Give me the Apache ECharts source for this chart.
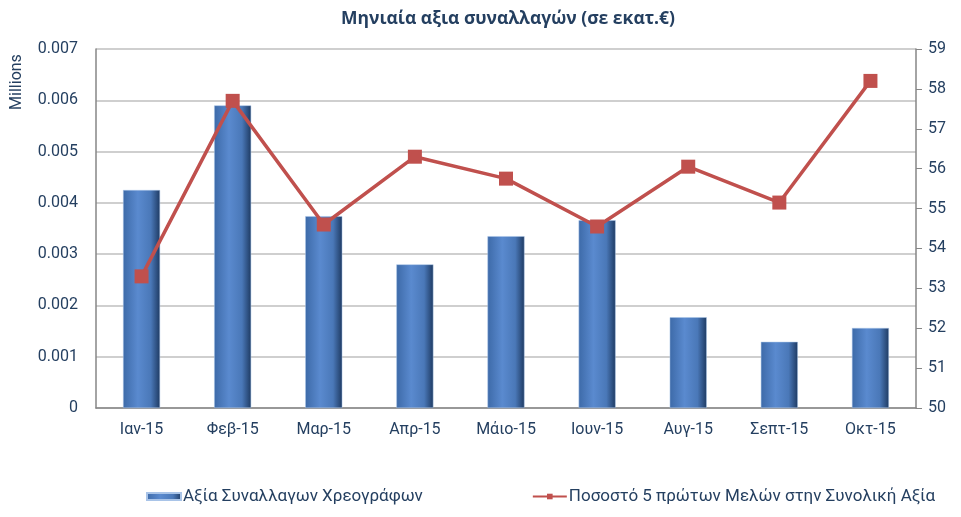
<!DOCTYPE html>
<html>
<head>
<meta charset="utf-8">
<script src="https://cdn.jsdelivr.net/npm/echarts@6/dist/echarts.min.js"></script>
<style>
  html, body { margin: 0; padding: 0; background: #fff; }
  #chart { width: 961px; height: 517px; }
</style>
</head>
<body>
<div id="chart"></div>
<script>
  var months = ['Ιαν-15', 'Φεβ-15', 'Μαρ-15', 'Απρ-15', 'Μάιο-15', 'Ιουν-15', 'Αυγ-15', 'Σεπτ-15', 'Οκτ-15']
  // αξία συναλλαγών (millions)
  var tradeValue = [0.00425, 0.0059, 0.00374, 0.0028, 0.00335, 0.00366, 0.00177, 0.00129, 0.00156]
  // ποσοστό 5 πρώτων μελών (%)
  var top5Share = [53.3, 57.7, 54.6, 56.3, 55.75, 54.55, 56.05, 55.15, 58.2]

  var textColor = '#243F60'
  var font = 'Roboto'

  var chart = echarts.init(document.getElementById('chart'))
  var option = {
    animation: false,
    textStyle: { fontFamily: font },
    title: {
      text: 'Μηνιαία αξια συναλλαγών (σε εκατ.€)',
      left: 336,
      top: 5,
      textStyle: { color: textColor, fontSize: 17.5, fontWeight: 'bold', fontFamily: 'Open Sans' }
    },
    graphic: [
      {
        type: 'text',
        x: 17,
        y: 82,
        rotation: Math.PI / 2,
        style: {
          text: 'Millions',
          fill: textColor,
          font: '16px Roboto',
          align: 'center',
          verticalAlign: 'middle'
        }
      }
    ],
    grid: { left: 96, right: 45, top: 49, bottom: 109 },
    legend: {
      bottom: 7,
      left: 141,
      itemGap: 109,
      itemWidth: 34,
      itemHeight: 7,
      textStyle: { color: textColor, fontSize: 17, fontFamily: font, padding: [0, 0, 0, -3] },
      data: [
        { name: 'Αξία Συναλλαγων Χρεογράφων', icon: 'rect' },
        { name: 'Ποσοστό 5 πρώτων Μελών στην Συνολική Αξία' }
      ]
    },
    xAxis: {
      type: 'category',
      data: months,
      axisLine: { lineStyle: { color: '#868686', width: 1.5 } },
      axisTick: { show: false },
      axisLabel: { color: textColor, fontSize: 16, margin: 14 }
    },
    yAxis: [
      {
        type: 'value',
        min: 0,
        max: 0.007,
        interval: 0.001,
        axisLine: { show: true, lineStyle: { color: '#868686', width: 1.5 } },
        axisTick: { show: false },
        splitLine: { lineStyle: { color: '#BFBFBF', width: 1.5 } },
        axisLabel: {
          color: textColor,
          fontSize: 16,
          margin: 18,
          formatter: function (v) { return v === 0 ? '0' : v.toFixed(3) }
        }
      },
      {
        type: 'value',
        min: 50,
        max: 59,
        interval: 1,
        position: 'right',
        axisLine: { show: true, lineStyle: { color: '#868686', width: 1.5 } },
        axisTick: { show: true, inside: false, length: 6, lineStyle: { color: '#868686' } },
        splitLine: { show: false },
        axisLabel: { color: textColor, fontSize: 16, margin: 12 }
      }
    ],
    series: [
      {
        name: 'Αξία Συναλλαγων Χρεογράφων',
        type: 'bar',
        yAxisIndex: 0,
        barWidth: 37,
        itemStyle: {
          color: new echarts.graphic.LinearGradient(0, 0, 1, 0, [
            { offset: 0, color: '#3D6AA8' },
            { offset: 0.4, color: '#5A8ACF' },
            { offset: 0.75, color: '#4A78B8' },
            { offset: 1, color: '#1E3A62' }
          ]),
          borderColor: '#A9C4E8',
          borderWidth: 0.5
        },
        data: tradeValue
      },
      {
        name: 'Ποσοστό 5 πρώτων Μελών στην Συνολική Αξία',
        type: 'line',
        yAxisIndex: 1,
        symbol: 'rect',
        symbolSize: 14,
        lineStyle: { color: '#C0504D', width: 3.5 },
        itemStyle: { color: '#C0504D' },
        data: top5Share
      }
    ]
  }
  chart.setOption(option)
</script>
</body>
</html>
